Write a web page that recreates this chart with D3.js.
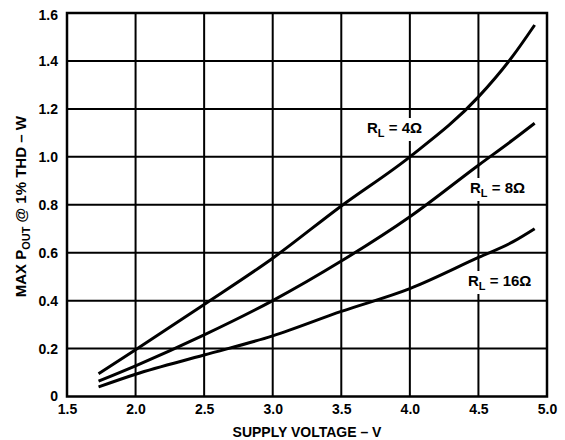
<!DOCTYPE html>
<html>
<head>
<meta charset="utf-8">
<script src="https://cdn.jsdelivr.net/npm/d3@7"></script>
<style>
  html, body { margin: 0; padding: 0; background: #fff; }
  svg { display: block; font-family: "Liberation Sans", Arial, sans-serif; font-weight: bold; }
</style>
</head>
<body>
<svg id="chart" width="565" height="440"></svg>
<script>
// Supply voltage samples (V) shared by the three load curves
const voltages = [1.73, 2.0, 2.5, 3.0, 3.5, 4.0, 4.5, 4.75, 4.91];
// Max output power at 1% THD (W) for each load
const pout4 = [0.095, 0.195, 0.384, 0.577, 0.795, 1.0, 1.25, 1.42, 1.55];
const pout8 = [0.064, 0.128, 0.257, 0.40, 0.565, 0.75, 0.965, 1.07, 1.14];
const pout16 = [0.040, 0.093, 0.173, 0.253, 0.355, 0.45, 0.58, 0.645, 0.70];
const loadNames = ["4Ω", "8Ω", "16Ω"];
const xTicks = [1.5, 2.0, 2.5, 3.0, 3.5, 4.0, 4.5, 5.0];
const yTicks = [0, 0.2, 0.4, 0.6, 0.8, 1.0, 1.2, 1.4, 1.6];

const svg = d3.select("#chart");
const m = { left: 67, top: 13, right: 547, bottom: 396.5 };

const x = d3.scaleLinear().domain([1.5, 5.0]).range([m.left, m.right]);
const y = d3.scaleLinear().domain([0, 1.6]).range([m.bottom, m.top]);

// grid
const grid = svg.append("g").attr("stroke", "#000").attr("stroke-width", 2);
grid.selectAll("line.v").data(xTicks.slice(1, -1)).join("line")
  .attr("x1", d => x(d)).attr("x2", d => x(d))
  .attr("y1", m.top).attr("y2", m.bottom);
grid.selectAll("line.h").data(yTicks.slice(1, -1)).join("line")
  .attr("x1", m.left).attr("x2", m.right)
  .attr("y1", d => y(d)).attr("y2", d => y(d));

// frame
svg.append("rect")
  .attr("x", m.left).attr("y", m.top)
  .attr("width", m.right - m.left).attr("height", m.bottom - m.top)
  .attr("fill", "none").attr("stroke", "#000").attr("stroke-width", 2.5);

// tick labels via axes (no tick lines / domain)
const xAxis = svg.append("g")
  .attr("transform", `translate(0,${m.bottom})`)
  .call(d3.axisBottom(x).tickValues(xTicks).tickFormat(d3.format(".1f")).tickSize(0).tickPadding(0));
xAxis.select(".domain").remove();
xAxis.selectAll("text")
  .attr("y", 17).attr("dy", null)
  .attr("font-size", 14).attr("font-weight", "bold")
  .attr("font-family", "Liberation Sans, Arial, sans-serif").attr("fill", "#000");

const yAxis = svg.append("g")
  .attr("transform", `translate(${m.left},0)`)
  .call(d3.axisLeft(y).tickValues(yTicks).tickFormat(d => d === 0 ? "0" : d3.format(".1f")(d)).tickSize(0).tickPadding(9));
yAxis.select(".domain").remove();
yAxis.selectAll("text")
  .attr("dy", d => d === 1.6 ? "0.47em" : "0.32em")
  .attr("font-size", 14).attr("font-weight", "bold")
  .attr("font-family", "Liberation Sans, Arial, sans-serif").attr("fill", "#000");

// curves
const line = d3.line()
  .x((d, i) => x(voltages[i]))
  .y(d => y(d))
  .curve(d3.curveMonotoneX);
svg.append("g").selectAll("path").data([pout4, pout8, pout16]).join("path")
  .attr("d", line)
  .attr("fill", "none").attr("stroke", "#000").attr("stroke-width", 3)
  .attr("stroke-linejoin", "round").attr("stroke-linecap", "butt");

// curve labels with white backing
const labels = [
  { name: loadNames[0], x: 367, y: 133 },
  { name: loadNames[1], x: 470, y: 193 },
  { name: loadNames[2], x: 468, y: 286 }
];
const lg = svg.append("g");
labels.forEach(l => {
  const g = lg.append("g");
  const t = g.append("text")
    .attr("x", l.x).attr("y", l.y)
    .attr("font-size", 15).attr("fill", "#000");
  t.append("tspan").text("R");
  t.append("tspan").attr("font-size", 11).attr("dy", 4).text("L");
  t.append("tspan").attr("dy", -4).text(" = " + l.name);
  const bb = t.node().getBBox();
  g.insert("rect", "text")
    .attr("x", bb.x - 2).attr("y", bb.y - 1)
    .attr("width", bb.width + 4).attr("height", bb.height + 3)
    .attr("fill", "#fff");
});

// axis titles
svg.append("text")
  .attr("x", (m.left + m.right) / 2).attr("y", 437)
  .attr("text-anchor", "middle").attr("font-size", 14).attr("fill", "#000")
  .text("SUPPLY VOLTAGE – V");

const yt = svg.append("text")
  .attr("transform", `translate(26,${(m.top + m.bottom) / 2 + 2}) rotate(-90)`)
  .attr("text-anchor", "middle").attr("font-size", 15).attr("fill", "#000");
yt.append("tspan").text("MAX P");
yt.append("tspan").attr("font-size", 11).attr("dy", 4).text("OUT");
yt.append("tspan").attr("dy", -4).text(" @ 1% THD – W");
</script>
</body>
</html>
